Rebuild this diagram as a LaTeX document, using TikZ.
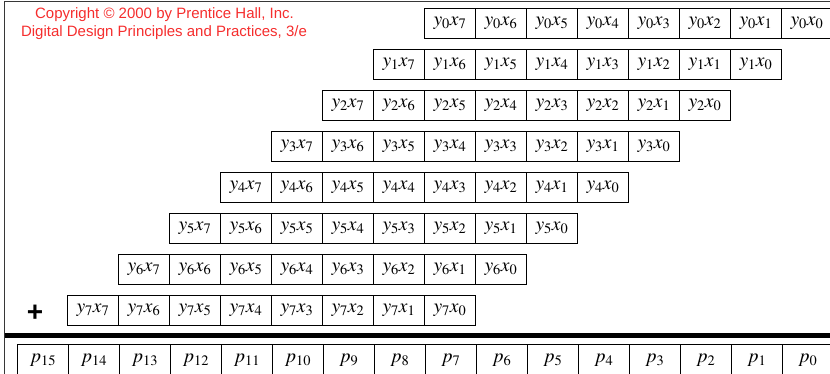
\documentclass[tikz,border=0pt]{standalone}
\usepackage{mathptmx}
\usepackage{fontspec}
\newfontfamily\cpfont{Liberation Sans}
\usetikzlibrary{positioning}
\definecolor{cpred}{RGB}{245,45,45}
\definecolor{framegray}{RGB}{55,55,55}

\begin{document}
\begin{tikzpicture}[
    x=1pt, y=-1pt,
    cell/.style={
        draw,
        line width=0.9pt,
        anchor=north west,
        minimum width=51pt,
        minimum height=30pt,
        inner sep=0pt,
        font=\fontsize{19.5}{22}\selectfont
    },
    note/.style={
        text=cpred,
        inner sep=0pt,
        font=\cpfont\fontsize{15}{18}\selectfont
    }
]
  \useasboundingbox (0,0) rectangle (830,374);

  % frame
  \draw[framegray, line width=1.5pt] (4.5,374) -- (4.5,1.5) -- (830,1.5);

  \node[note] (copy) at (164.5,15) {Copyright © 2000 by Prentice Hall, Inc.};
  \node[note] (book) at (164,33) {Digital Design Principles and Practices, 3/e};

  % partial products
  \foreach \r in {0,...,7} {
    \foreach \c in {0,...,7} {
      \pgfmathtruncatemacro\xi{7-\c}
      \node[cell] (y\r-\xi) at ({424-51*\r+51*\c},{8+41*\r}) {$y_{\r}x_{\xi}$};
    }
  }

  \node[inner sep=0pt, font=\cpfont\bfseries\fontsize{28}{28}\selectfont] (plus) at (35,313) {+};

  \draw[line width=5pt] (4.5,335.5) -- (830,335.5);

  % product bits
  \foreach \i in {0,...,15} {
    \pgfmathtruncatemacro\k{15-\i}
    \node[cell, minimum height=32pt] (p\k) at ({17+51*\i},344) {$p_{\k}$};
  }
\end{tikzpicture}
\end{document}
